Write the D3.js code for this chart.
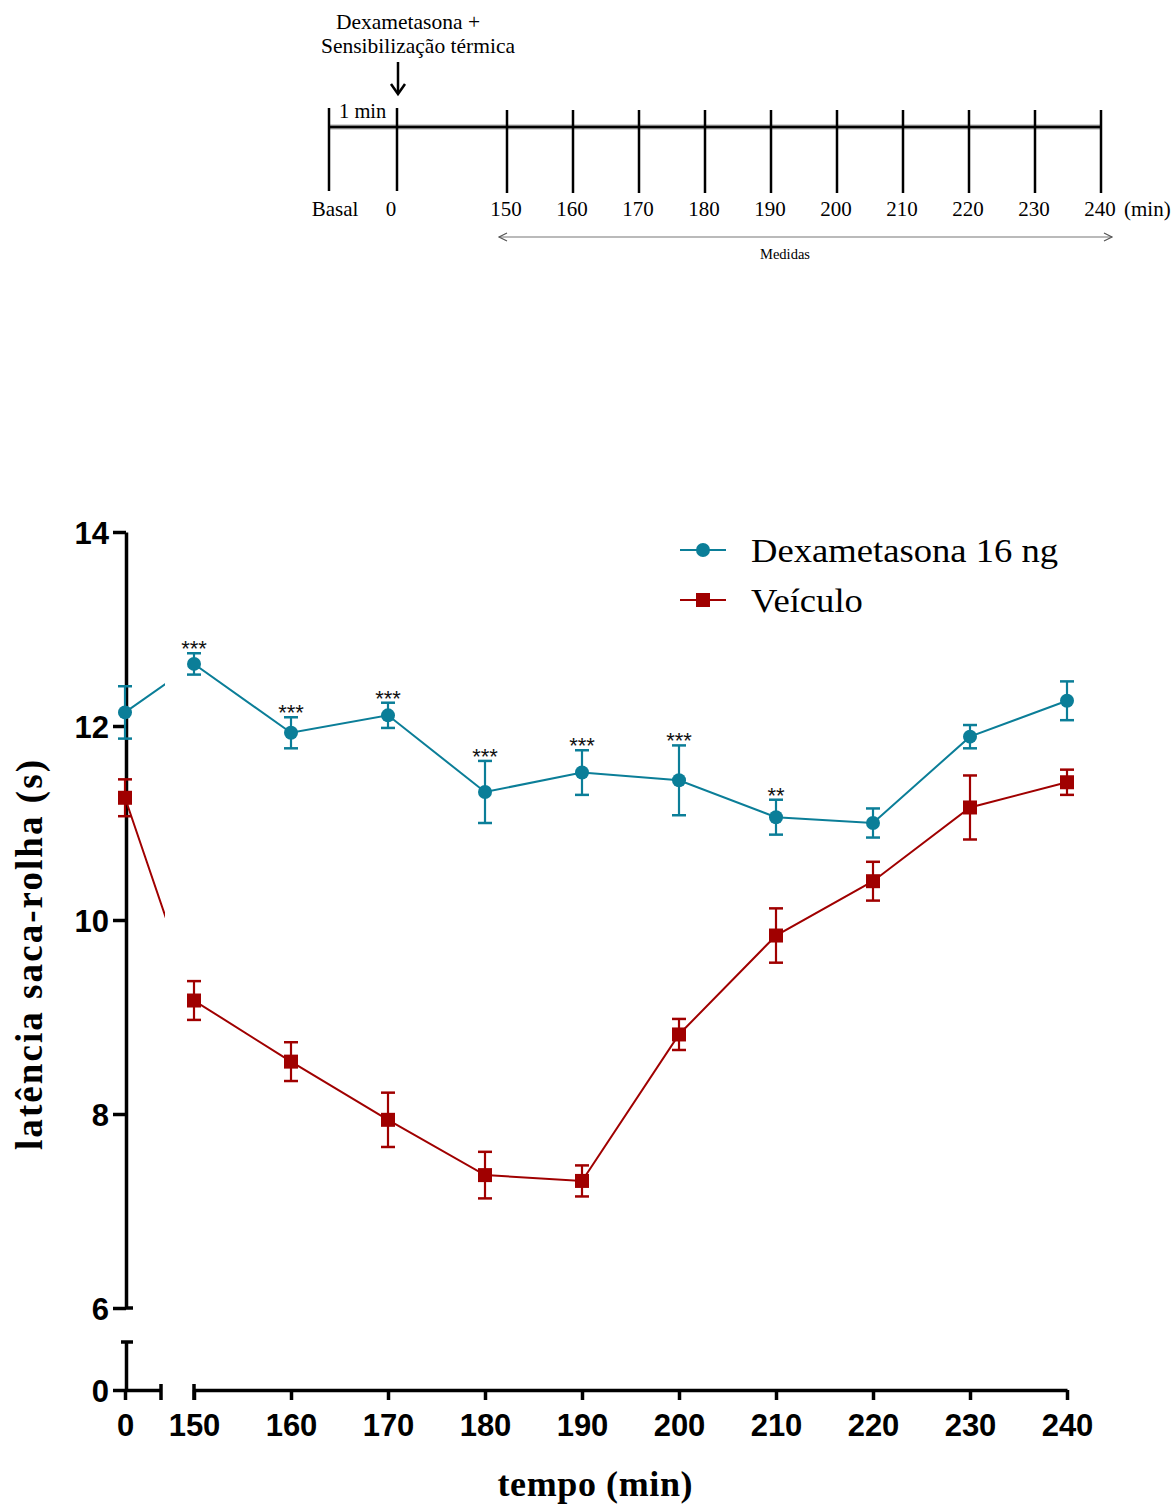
<!DOCTYPE html>
<html>
<head>
<meta charset="utf-8">
<script src="https://d3js.org/d3.v7.min.js"></script>
<style>
  body { margin: 0; background: #fff; }
  svg { display: block; }
</style>
</head>
<body>
<div id="chart"></div>
<script>
// data
var times = [0, 150, 160, 170, 180, 190, 200, 210, 220, 230, 240];
var dexaMean = [12.14, 12.64, 11.93, 12.11, 11.32, 11.52, 11.44, 11.06, 11.00, 11.89, 12.26];
var dexaSem = [0.27, 0.11, 0.16, 0.13, 0.32, 0.23, 0.36, 0.18, 0.15, 0.12, 0.20];
var veicMean = [11.26, 9.17, 8.54, 7.94, 7.37, 7.31, 8.82, 9.84, 10.40, 11.16, 11.42];
var veicSem = [0.19, 0.20, 0.20, 0.28, 0.24, 0.16, 0.16, 0.28, 0.20, 0.33, 0.13];
var stars = ["", "***", "***", "***", "***", "***", "***", "**", "", "", ""];
var xTicksRight = [150, 160, 170, 180, 190, 200, 210, 220, 230, 240];
var yTicksUpper = [6, 8, 10, 12, 14];
var seriesNames = ["Dexametasona 16 ng", "Veículo"];

// timeline diagram labels
var timelineStart = ["Basal", "0"];
var timelineTimes = [150, 160, 170, 180, 190, 200, 210, 220, 230, 240];

var svgWidth = 1176;
var svgHeight = 1504;

var blue = "#0b7e98";
var red = "#a00000";

var svg = d3.select("#chart")
  .append("svg")
  .attr("width", svgWidth)
  .attr("height", svgHeight);

svg.append("rect").attr("width", svgWidth).attr("height", svgHeight).attr("fill", "#fff");

// ---------- timeline at the top ----------
var tl = svg.append("g");
var tlStart = d3.scalePoint().domain(timelineStart).range([329, 397]);
var tlTime = d3.scaleLinear().domain([150, 240]).range([507, 1101]);
var serif = "'Liberation Serif', 'Times New Roman', serif";

tl.append("line")
  .attr("x1", 329).attr("x2", 1101)
  .attr("y1", 127).attr("y2", 127)
  .attr("stroke", "#aaa").attr("stroke-width", 5);
tl.append("line")
  .attr("x1", 329).attr("x2", 1101)
  .attr("y1", 127).attr("y2", 127)
  .attr("stroke", "#000").attr("stroke-width", 2.5);

tl.selectAll(".tick0")
  .data(timelineStart)
  .enter()
  .append("line")
  .attr("x1", d => tlStart(d)).attr("x2", d => tlStart(d))
  .attr("y1", 108).attr("y2", 191)
  .attr("stroke", "#000").attr("stroke-width", 2.5);

tl.selectAll(".tick1")
  .data(timelineTimes)
  .enter()
  .append("line")
  .attr("x1", d => tlTime(d)).attr("x2", d => tlTime(d))
  .attr("y1", 110).attr("y2", 193)
  .attr("stroke", "#000").attr("stroke-width", 2.5);

tl.selectAll(".lab0")
  .data(timelineStart)
  .enter()
  .append("text")
  .attr("x", (d, i) => tlStart(d) + (i == 0 ? 6 : -6))
  .attr("y", 216)
  .attr("text-anchor", "middle")
  .style("font-family", serif)
  .style("font-size", "21px")
  .text(d => d);

tl.selectAll(".lab1")
  .data(timelineTimes)
  .enter()
  .append("text")
  .attr("x", d => tlTime(d) - 1)
  .attr("y", 216)
  .attr("text-anchor", "middle")
  .style("font-family", serif)
  .style("font-size", "21px")
  .text(d => d);

tl.append("text")
  .attr("x", tlTime(240) + 23).attr("y", 216)
  .style("font-family", serif).style("font-size", "21px")
  .text("(min)");

tl.append("text")
  .attr("x", 339).attr("y", 118)
  .style("font-family", serif).style("font-size", "20.5px")
  .text("1 min");

tl.append("text")
  .attr("x", 408).attr("y", 29)
  .attr("text-anchor", "middle")
  .style("font-family", serif).style("font-size", "21.5px")
  .text("Dexametasona +");
tl.append("text")
  .attr("x", 418).attr("y", 53)
  .attr("text-anchor", "middle")
  .style("font-family", serif).style("font-size", "21.5px")
  .text("Sensibilização térmica");

// down arrow
tl.append("line")
  .attr("x1", 398).attr("x2", 398)
  .attr("y1", 62).attr("y2", 92)
  .attr("stroke", "#000").attr("stroke-width", 2.5);
tl.append("path")
  .attr("d", "M391,84 L398,94 L405,84")
  .attr("fill", "none").attr("stroke", "#000").attr("stroke-width", 2.5);

// "Medidas" double arrow
tl.append("line")
  .attr("x1", 499).attr("x2", 1112)
  .attr("y1", 237).attr("y2", 237)
  .attr("stroke", "#777").attr("stroke-width", 1.2);
tl.append("path")
  .attr("d", "M507,233 L499,237 L507,241 M1104,233 L1112,237 L1104,241")
  .attr("fill", "none").attr("stroke", "#555").attr("stroke-width", 1.2);
tl.append("text")
  .attr("x", 785).attr("y", 259)
  .attr("text-anchor", "middle")
  .style("font-family", serif).style("font-size", "14.5px")
  .text("Medidas");

// ---------- main chart ----------
var sans = "'Liberation Sans', Arial, sans-serif";

var xLeft = d3.scaleLinear().domain([0, 3.7]).range([125, 161]);
var xRight = d3.scaleLinear().domain([150, 240]).range([194, 1067]);
var xPos = t => (t < 150 ? xLeft(t) : xRight(t));

var yUpper = d3.scaleLinear().domain([6, 14]).range([1308, 532]);
var yLower = d3.scaleLinear().domain([0, 0.5]).range([1390, 1342]);

var chart = svg.append("g");
var fmt = d3.format("d");

// y axis, upper part
var yAxisUp = chart.append("g")
  .attr("transform", "translate(126,0)")
  .call(d3.axisLeft(yUpper).tickValues(yTicksUpper).tickFormat(fmt).tickSize(13).tickSizeOuter(0).tickPadding(4));
// y axis, lower part
var yAxisLow = chart.append("g")
  .attr("transform", "translate(126,0)")
  .call(d3.axisLeft(yLower).tickValues([0]).tickFormat(fmt).tickSize(13).tickSizeOuter(0).tickPadding(4));
// x axis, left and right parts
var xAxisLeft = chart.append("g")
  .attr("transform", "translate(0,1390)")
  .call(d3.axisBottom(xLeft).tickValues([0]).tickFormat(fmt).tickSize(10).tickSizeOuter(0).tickPadding(14));
var xAxisRight = chart.append("g")
  .attr("transform", "translate(0,1390)")
  .call(d3.axisBottom(xRight).tickValues(xTicksRight).tickFormat(fmt).tickSize(10).tickSizeOuter(0).tickPadding(14));

[yAxisUp, yAxisLow, xAxisLeft, xAxisRight].forEach(function(a) {
  a.select(".domain").attr("stroke-width", 3.5);
  a.selectAll(".tick line").attr("stroke-width", 3.5);
  a.selectAll("text")
    .style("font-family", sans)
    .style("font-size", "31px")
    .style("font-weight", "bold")
    .attr("fill", "#000");
});
yAxisUp.selectAll(".tick text").attr("dy", "0.36em");
yAxisLow.selectAll(".tick text").attr("dy", "0.36em");

// segment end caps
var caps = [
  [yUpper.range()[0], 126, 133],
  [yLower.range()[1], 121, 133]
];
caps.forEach(function(c) {
  chart.append("line")
    .attr("x1", c[1]).attr("x2", c[2])
    .attr("y1", c[0]).attr("y2", c[0])
    .attr("stroke", "#000").attr("stroke-width", 3.5);
});
[xLeft.range()[1], xRight.range()[0]].forEach(function(x) {
  chart.append("line")
    .attr("x1", x).attr("x2", x)
    .attr("y1", 1384).attr("y2", 1400)
    .attr("stroke", "#000").attr("stroke-width", 3.5);
});

// axis titles
chart.append("text")
  .attr("transform", "translate(42, 955) rotate(-90)")
  .attr("text-anchor", "middle")
  .attr("textLength", 390)
  .attr("lengthAdjust", "spacing")
  .style("font-family", serif)
  .style("font-size", "37px")
  .style("font-weight", "bold")
  .text("latência saca-rolha (s)");

chart.append("text")
  .attr("x", 595).attr("y", 1496)
  .attr("text-anchor", "middle")
  .attr("textLength", 195)
  .attr("lengthAdjust", "spacing")
  .style("font-family", serif)
  .style("font-size", "36px")
  .style("font-weight", "bold")
  .text("tempo (min)");

// clip so the line breaks across the x-axis gap
var defs = svg.append("defs");
var clip = defs.append("clipPath").attr("id", "gapClip");
clip.append("rect").attr("x", 0).attr("y", 0).attr("width", 165).attr("height", svgHeight);
clip.append("rect").attr("x", 194).attr("y", 0).attr("width", svgWidth).attr("height", svgHeight);

var series = [
  { name: seriesNames[0], mean: dexaMean, sem: dexaSem, color: blue, shape: "circle" },
  { name: seriesNames[1], mean: veicMean, sem: veicSem, color: red, shape: "square" }
];

var line = d3.line()
  .x(d => xPos(d.t))
  .y(d => yUpper(d.m));

// draw vehicle first, then dexa on top
series.slice().reverse().forEach(function(s) {
  var pts = times.map((t, i) => ({ t: t, m: s.mean[i], e: s.sem[i] }));
  var g = chart.append("g");

  g.append("path")
    .datum(pts)
    .attr("d", line)
    .attr("fill", "none")
    .attr("stroke", s.color)
    .attr("stroke-width", 2)
    .attr("clip-path", "url(#gapClip)");

  var eb = g.selectAll(".err")
    .data(pts)
    .enter()
    .append("g");
  eb.append("line")
    .attr("x1", d => xPos(d.t)).attr("x2", d => xPos(d.t))
    .attr("y1", d => yUpper(d.m + d.e)).attr("y2", d => yUpper(d.m - d.e))
    .attr("stroke", s.color).attr("stroke-width", 2.2);
  eb.append("line")
    .attr("x1", d => xPos(d.t) - 7).attr("x2", d => xPos(d.t) + 7)
    .attr("y1", d => yUpper(d.m + d.e)).attr("y2", d => yUpper(d.m + d.e))
    .attr("stroke", s.color).attr("stroke-width", 2.5);
  eb.append("line")
    .attr("x1", d => xPos(d.t) - 7).attr("x2", d => xPos(d.t) + 7)
    .attr("y1", d => yUpper(d.m - d.e)).attr("y2", d => yUpper(d.m - d.e))
    .attr("stroke", s.color).attr("stroke-width", 2.5);

  if (s.shape == "circle") {
    g.selectAll(".pt")
      .data(pts)
      .enter()
      .append("circle")
      .attr("cx", d => xPos(d.t))
      .attr("cy", d => yUpper(d.m))
      .attr("r", 7)
      .attr("fill", s.color);
  } else {
    g.selectAll(".pt")
      .data(pts)
      .enter()
      .append("rect")
      .attr("x", d => xPos(d.t) - 7)
      .attr("y", d => yUpper(d.m) - 7)
      .attr("width", 14)
      .attr("height", 14)
      .attr("fill", s.color);
  }
});

// significance stars above dexa error bars
chart.selectAll(".star")
  .data(times)
  .enter()
  .append("text")
  .attr("x", d => xPos(d))
  .attr("y", (d, i) => yUpper(dexaMean[i] + dexaSem[i]) + 3)
  .attr("text-anchor", "middle")
  .style("font-family", sans)
  .style("font-size", "22px")
  .attr("fill", "#111")
  .text((d, i) => stars[i]);

// legend
var legend = chart.selectAll(".legend")
  .data(series)
  .enter()
  .append("g")
  .attr("transform", (d, i) => `translate(680, ${550 + i * 50})`);
legend.append("line")
  .attr("x1", 0).attr("x2", 46)
  .attr("stroke", d => d.color).attr("stroke-width", 2);
legend.filter(d => d.shape == "circle")
  .append("circle").attr("cx", 23).attr("r", 7).attr("fill", d => d.color);
legend.filter(d => d.shape == "square")
  .append("rect").attr("x", 16).attr("y", -7).attr("width", 14).attr("height", 14).attr("fill", d => d.color);
legend.append("text")
  .attr("transform", "translate(71, 12) scale(1.11, 1)")
  .style("font-family", serif)
  .style("font-size", "33px")
  .text(d => d.name);
</script>
</body>
</html>
